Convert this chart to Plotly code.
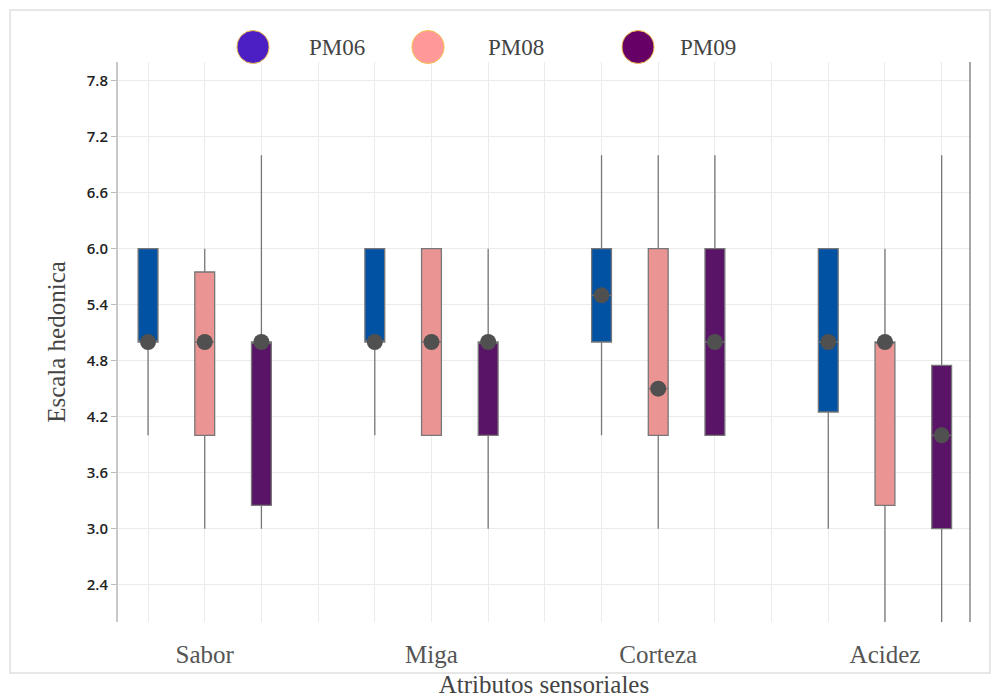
import plotly.graph_objects as go

# ---------------- data ----------------
categories = ["Sabor", "Miga", "Corteza", "Acidez"]
series = ["PM06", "PM08", "PM09"]

PM06_MIN = [4.0, 4.0, 4.0, 3.0]
PM06_Q1 = [5.0, 5.0, 5.0, 4.25]
PM06_MED = [5.0, 5.0, 5.5, 5.0]
PM06_Q3 = [6.0, 6.0, 6.0, 6.0]
PM06_MAX = [6.0, 6.0, 7.0, 6.0]

PM08_MIN = [3.0, 4.0, 3.0, 2.0]
PM08_Q1 = [4.0, 4.0, 4.0, 3.25]
PM08_MED = [5.0, 5.0, 4.5, 5.0]
PM08_Q3 = [5.75, 6.0, 6.0, 5.0]
PM08_MAX = [6.0, 6.0, 7.0, 6.0]

PM09_MIN = [3.0, 3.0, 4.0, 2.0]
PM09_Q1 = [3.25, 4.0, 4.0, 3.0]
PM09_MED = [5.0, 5.0, 5.0, 4.0]
PM09_Q3 = [5.0, 5.0, 6.0, 4.75]
PM09_MAX = [7.0, 6.0, 7.0, 7.0]

box_colors = ["#0152A3", "#EA9593", "#5A1467"]
legend_colors = ["#4B1FC4", "#FF9999", "#660066"]

Y_TICK0 = 0.0
Y_DTICK = 0.6
Y_RANGE = [2.0, 8.0]

stats = [
    (PM06_MIN, PM06_Q1, PM06_MED, PM06_Q3, PM06_MAX),
    (PM08_MIN, PM08_Q1, PM08_MED, PM08_Q3, PM08_MAX),
    (PM09_MIN, PM09_Q1, PM09_MED, PM09_Q3, PM09_MAX),
]

# ---------------- layout helpers ----------------
PAGE_OFF = 8  # default body margin of the html page
W, H = 992, 690
ML, MR, MT, MB = 110, 30, 54, 76
PW, PH = W - ML - MR, H - MT - MB
GROUP_STEP = len(series) + 1  # slots per category (incl. gap)


def px_x(p):  # page pixel -> paper x
    return (p - PAGE_OFF - ML) / PW


def px_y(p):  # page pixel -> paper y
    return (H - MB - (p - PAGE_OFF)) / PH


SERIF = "Liberation Serif, Times New Roman, serif"
SANS = "Open Sans, Noto Sans, sans-serif"

fig = go.Figure()

for si, name in enumerate(series):
    mn, q1, med, q3, mx = stats[si]
    xs = [ci * GROUP_STEP + si for ci in range(len(categories))]
    fig.add_trace(go.Box(
        name=name,
        x=xs,
        q1=q1, median=med, q3=q3,
        lowerfence=mn, upperfence=mx,
        width=0.35,
        fillcolor=box_colors[si],
        line=dict(color="#777777", width=1.3),
        boxpoints=False,
        whiskerwidth=0,
        showlegend=False,
        hoverinfo="skip",
    ))

for si, name in enumerate(series):
    med = stats[si][2]
    xs = [ci * GROUP_STEP + si for ci in range(len(categories))]
    fig.add_trace(go.Scatter(
        x=xs, y=med, mode="markers",
        marker=dict(size=16, color="#505050", line=dict(width=0)),
        showlegend=False, hoverinfo="skip",
    ))

cat_pos = [ci * GROUP_STEP + (len(series) - 1) / 2 for ci in range(len(categories))]

shapes = []
annotations = []

# outer border
shapes.append(dict(type="rect", xref="paper", yref="paper",
                   x0=px_x(10), x1=px_x(990), y0=px_y(673), y1=px_y(10),
                   line=dict(color="#e0e0e0", width=1.5), layer="below"))
# right vertical line
shapes.append(dict(type="line", xref="paper", yref="paper",
                   x0=1, x1=1, y0=0, y1=1,
                   line=dict(color="#8a8a8a", width=1.5)))

# custom legend
circle_px = [253, 428, 638]
text_px = [337, 516, 708]
ly = px_y(47)
for i, name in enumerate(series):
    shapes.append(dict(type="circle", xref="paper", yref="paper",
                       xsizemode="pixel", ysizemode="pixel",
                       xanchor=px_x(circle_px[i]), yanchor=ly,
                       x0=-16, x1=16, y0=-16.5, y1=16.5,
                       fillcolor=legend_colors[i],
                       line=dict(color="#F2C14E", width=1)))
    annotations.append(dict(xref="paper", yref="paper",
                            x=px_x(text_px[i]), y=ly,
                            text=name, showarrow=False,
                            xanchor="center", yanchor="middle",
                            font=dict(family=SERIF, size=23, color="#444444")))

fig.update_layout(
    width=W, height=H,
    margin=dict(l=ML, r=MR, t=MT, b=MB),
    paper_bgcolor="white", plot_bgcolor="white",
    showlegend=False,
    boxmode="overlay",
    shapes=shapes,
    annotations=annotations,
    xaxis=dict(
        range=[-0.53, 14.5], automargin=False,
        tickmode="array", tickvals=cat_pos, ticktext=categories,
        ticks="outside", ticklen=10, tickcolor="rgba(0,0,0,0)",
        showline=False, zeroline=False,
        showgrid=True, gridcolor="#ebebeb", gridwidth=1,
        minor=dict(tick0=0, dtick=1, showgrid=True, gridcolor="#ebebeb", gridwidth=1, ticks=""),
        tickfont=dict(family=SERIF, size=25, color="#555555"),
        title=dict(text="Atributos sensoriales", standoff=8,
                   font=dict(family=SERIF, size=25, color="#444444")),
    ),
    yaxis=dict(
        range=Y_RANGE, automargin=False,
        tick0=Y_TICK0, dtick=Y_DTICK, tickformat=".1f",
        ticks="outside", ticklen=5, tickcolor="#bbbbbb",
        showline=True, linecolor="#c8c8c8", linewidth=2,
        showgrid=True, gridcolor="#ebebeb", gridwidth=1, zeroline=False,
        tickfont=dict(family=SANS, size=15, color="#222222", weight=600),
        title=dict(text="Escala hedonica", standoff=14,
                   font=dict(family=SERIF, size=25, color="#444444")),
    ),
)

fig.write_html("out.html")
